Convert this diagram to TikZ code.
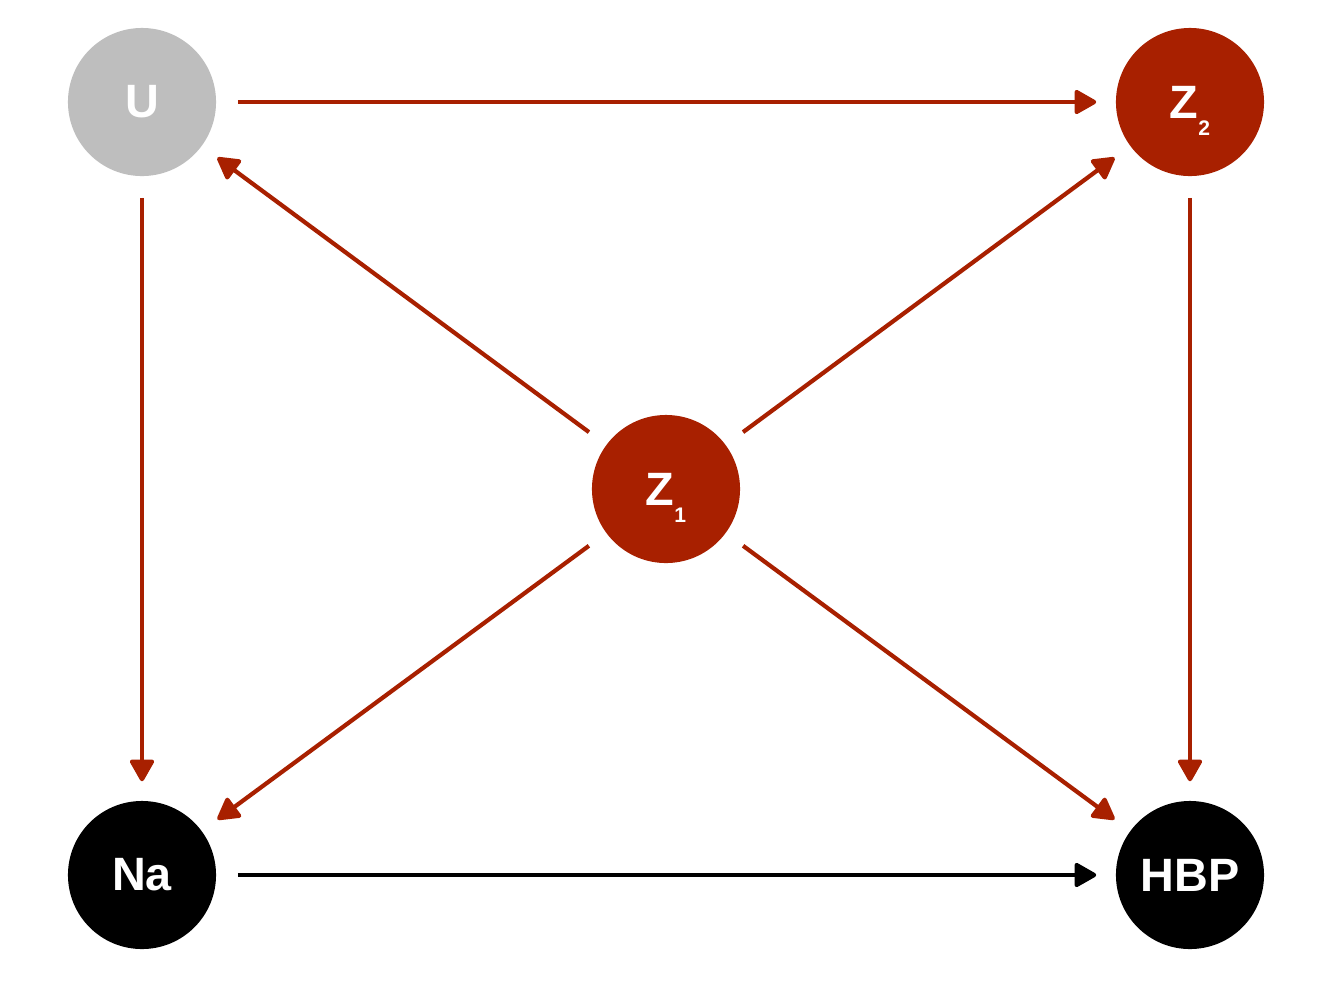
\documentclass[tikz,border=0pt]{standalone}
\usepackage{fontspec}
\setmainfont{Liberation Sans}
\usetikzlibrary{arrows.meta}
\definecolor{dred}{HTML}{A82000}
\definecolor{ugray}{HTML}{BEBEBE}
\newcommand{\subidx}[1]{\smash{\raisebox{-0.37em}{\fontsize{6pt}{6pt}\selectfont #1}}}
\begin{document}
\begin{tikzpicture}[x=0.01cm,y=-0.01cm,
  vnode/.style={circle,minimum size=1.48cm,inner sep=0pt,text=white,font=\fontsize{13.3pt}{14pt}\selectfont\bfseries},
  edge/.style={line width=0.042cm,-{Triangle[length=0.24cm,width=0.26cm,round]},shorten <=0.21cm,shorten >=0.19cm},
  redge/.style={edge,draw=dred,fill=dred},
  kedge/.style={edge,draw=black,fill=black}]
\useasboundingbox (0,0) rectangle (1320,990);
\fill[white] (0,0) rectangle (1320,990);
\node[vnode,fill=ugray] (U) at (142,102) {U};
\node[vnode,fill=dred] (Z2) at (1190,102) {Z\subidx{2}};
\node[vnode,fill=black] (Na) at (142,875) {Na};
\node[vnode,fill=black] (HBP) at (1190,875) {HBP};
\node[vnode,fill=dred] (Z1) at (666,489) {Z\subidx{1}};
\draw[redge] (U) -- (Z2);
\draw[redge] (U) -- (Na);
\draw[redge] (Z2) -- (HBP);
\draw[redge] (Z1) -- (U);
\draw[redge] (Z1) -- (Z2);
\draw[redge] (Z1) -- (Na);
\draw[redge] (Z1) -- (HBP);
\draw[kedge] (Na) -- (HBP);
\end{tikzpicture}
\end{document}
